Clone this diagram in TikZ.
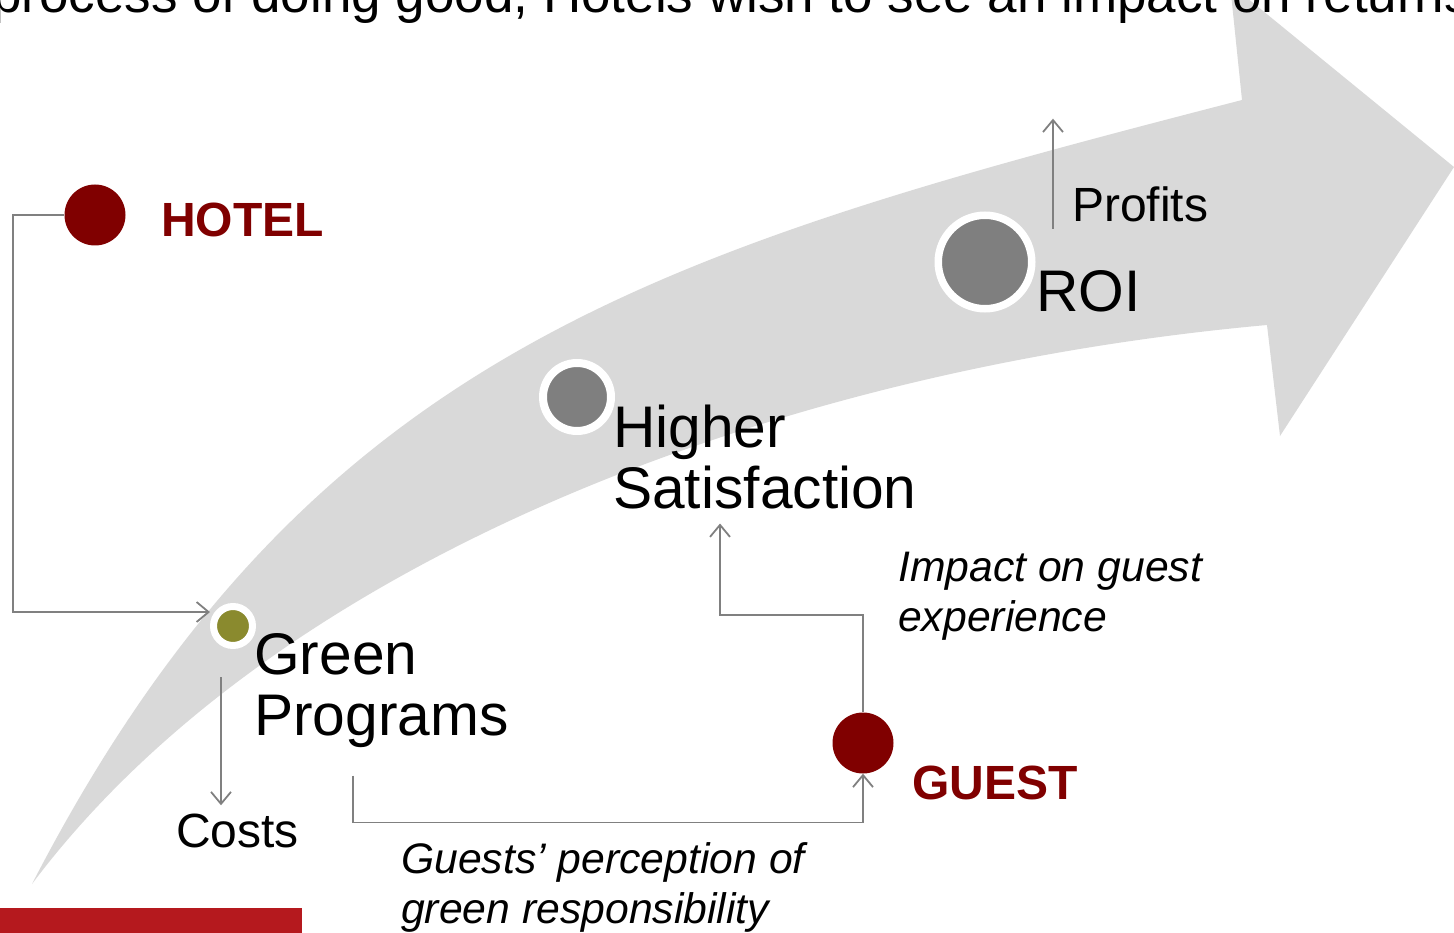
\documentclass[tikz,border=0pt]{standalone}
\usepackage{fontspec}
\setmainfont{Liberation Sans}
\usetikzlibrary{arrows.meta,calc}
\definecolor{hotelred}{HTML}{800000}
\definecolor{flowgray}{HTML}{D9D9D9}
\definecolor{dotgray}{HTML}{7F7F7F}
\definecolor{dotolive}{HTML}{8A8A2E}
\definecolor{linkgray}{HTML}{808080}
\definecolor{barred}{HTML}{B5191E}

\begin{document}
\begin{tikzpicture}[
  x=1pt,y=-1pt,
  title/.style={font=\fontsize{53}{58}\selectfont,inner sep=0pt,anchor=base west},
  stage/.style={font=\fontsize{58.7}{61}\selectfont,align=left,inner sep=0pt},
  effect/.style={font=\fontsize{48}{52}\selectfont,inner sep=0pt,anchor=base west},
  actor/.style={font=\bfseries\fontsize{48}{52}\selectfont,text=hotelred,inner sep=0pt,anchor=base west},
  note/.style={font=\itshape\fontsize{42.7}{50}\selectfont,align=left,inner sep=0pt,anchor=north west},
  reddot/.style={circle,fill=hotelred,minimum size=61pt,inner sep=0pt},
  ringdot/.style={circle,draw=white,inner sep=0pt},
  link/.style={draw=linkgray,line width=1.8pt,-{Straight Barb[length=12pt,width=20pt]}},
]
\useasboundingbox (0,0) rectangle (1454,933);
\clip (0,0) rectangle (1454,933);
\fill[flowgray] (32,884) .. controls (307,351) and (661,250) .. (1242,100)
  -- (1230,-16) -- (1454,167) -- (1280,436) -- (1267,325)
  .. controls (769,370) and (272,564) .. (32,884) -- cycle;
\node[title] (head) at (-8,13) {process of doing good, Hotels wish to see an impact on returns};
\node[reddot] (hotel) at (95,215) {};
\node[actor] (hoteltxt) at (161,237) {HOTEL};
\node[ringdot,fill=dotolive,line width=7pt,minimum size=39pt] (green) at (233,626) {};
\node[stage,anchor=north west] (greentxt) at (254,633) {Green\\Programs};
\node[effect] (costs) at (176,847) {Costs};
\node[ringdot,fill=dotgray,line width=8pt,minimum size=68pt] (higher) at (577,397) {};
\node[stage,anchor=north west] (highertxt) at (613,405) {Higher\\Satisfaction};
\node[ringdot,fill=dotgray,line width=7.5pt,minimum size=93.5pt] (roi) at (985,262) {};
\node[stage,anchor=base west] (roitxt) at (1036,312) {ROI};
\node[effect] (profits) at (1072,222) {Profits};
\node[reddot] (guest) at (863,743) {};
\node[actor] (guesttxt) at (912,799) {GUEST};
\node[note] (impact) at (898,552) {Impact on guest\\experience};
\node[note] (percept) at (401,842) {Guests’ perception of\\green responsibility};
\fill[barred] (0,908) rectangle (302,933);
\draw[link] (hotel.west) -- ++(-51,0) |- ([yshift=14pt]green.west);
\draw[link] ($(green.center)+(-12,51)$) -- ($(green.center |- costs.north)+(-12,-8)$);
\draw[link] ([shift={(99,28)}]greentxt.south west) -- ++(0,47) -| (guest.south);
\draw[link] (guest.north) -- ++(0,-97) -| ([shift={(107,14)}]highertxt.south west);
\draw[link] ([shift={(-19,6)}]profits.south west) -- ++(0,-110);
\end{tikzpicture}
\end{document}
